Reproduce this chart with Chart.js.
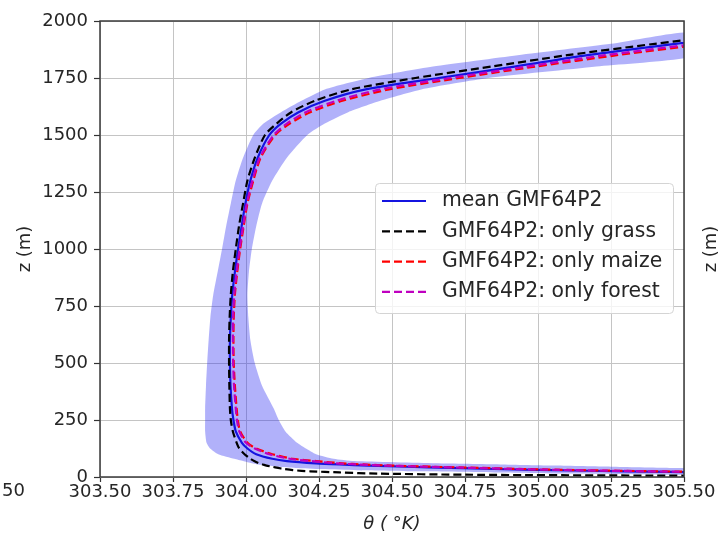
<!DOCTYPE html>
<html><head><meta charset="utf-8">
<script src="https://cdn.jsdelivr.net/npm/chart.js@4.4.1/dist/chart.umd.min.js"></script>
<style>html,body{margin:0;padding:0;background:#fff;overflow:hidden}canvas{display:block}</style>
</head><body>
<canvas id="c" width="719" height="535" style="width:719px;height:535px"></canvas>
<script>
// heights (m)
const zLevels = [5,10,15,20,25,30,35,40,45,50, 55,60,70,80,100,125,150,200,250,300, 400,500,600,700,800,900,1000,1100,1200,1300, 1400,1500,1550,1600,1650,1700,1750,1800,1850,1900, 1950];
// potential temperature (K) per series, aligned with zLevels (null = off the plot)
const thetaMean = [null,null,null,305.6,305.3,305.05,304.85,304.7,304.55,304.42, 304.32,304.24,304.14,304.09,304.035,304.005,303.986,303.965,303.957,303.952, 303.947,303.945,303.945,303.948,303.953,303.962,303.973,303.985,303.998,304.015, 304.04,304.08,304.12,304.18,304.27,304.41,304.66,304.92,305.17,305.47, 305.8];
const thetaGrass = [305.6,304.75,304.45,304.32,304.22,304.16,304.13,304.11,304.09,304.07, 304.058,304.045,304.028,304.015,303.995,303.977,303.968,303.955,303.948,303.945, 303.943,303.942,303.942,303.944,303.948,303.955,303.965,303.976,303.99,304.005, 304.03,304.065,304.105,304.155,304.235,304.36,304.58,304.84,305.1,305.4, 305.72];
const thetaMaize = [null,null,null,305.7,305.4,305.15,304.95,304.8,304.64,304.5, 304.4,304.33,304.24,304.16,304.09,304.035,304.005,303.98,303.972,303.968, 303.962,303.958,303.957,303.958,303.962,303.97,303.98,303.992,304.005,304.025, 304.05,304.1,304.15,304.22,304.33,304.49,304.73,304.99,305.27,305.58, null];
const thetaForest = [null,null,null,305.65,305.37,305.12,304.92,304.77,304.62,304.48, 304.38,304.31,304.22,304.15,304.08,304.03,304.0,303.977,303.969,303.965, 303.959,303.956,303.955,303.956,303.96,303.968,303.978,303.99,304.003,304.022, 304.047,304.095,304.14,304.205,304.31,304.46,304.7,304.96,305.23,305.54, null];
// spread of the ensemble (lower / upper theta bound)
const bandMin = [306.2,305.42,305.1,304.85,304.6,304.38,304.26,304.17,304.11,304.07, 304.04,304.02,303.99,303.96,303.905,303.877,303.865,303.86,303.86,303.86, 303.863,303.867,303.872,303.878,303.888,303.903,303.918,303.932,303.948,303.965, 303.99,304.025,304.06,304.12,304.19,304.27,304.42,304.64,304.93,305.25, 305.53];
const bandMax = [null,null,null,null,null,null,305.75,305.45,305.25,305.06, 304.87,304.65,304.37,304.3,304.24,304.205,304.175,304.135,304.112,304.095, 304.055,304.03,304.015,304.008,304.005,304.01,304.02,304.035,304.055,304.09, 304.14,304.21,304.27,304.35,304.46,304.6,304.83,305.2,305.55,null, null];
// tick labels
const xTicks = [303.5,303.75,304.0,304.25,304.5,304.75,305.0,305.25,305.5];
const yTicks = [0,250,500,750,1000,1250,1500,1750,2000];
const seriesLabels = ['mean GMF64P2','GMF64P2: only grass','GMF64P2: only maize','GMF64P2: only forest'];

const toPts = arr => zLevels.map((z,i)=> arr[i]==null ? null : {x:arr[i], y:z}).filter(Boolean);
const bandPts = toPts(bandMin).concat(toPts(bandMax).reverse());

const FONT = 'DejaVu Sans';
const TXT = '#262626';
const dash = [8,4];

// font sizes fitted to the widths of the texts in the reference
const mctx = document.createElement('canvas').getContext('2d');
function fitSize(text, target) { mctx.font = '100px "' + FONT + '"'; return 100 * target / mctx.measureText(text).width; }
const tickSize = (fitSize('303.50', 62) + fitSize('2000', 46.5)) / 2;
const legSize = (fitSize(seriesLabels[0], 159) + fitSize(seriesLabels[3], 220)) / 2;

const lineDs = (label, arr, color, d) => ({label, data: toPts(arr), borderColor: color, backgroundColor: color,
  borderWidth: 2.2, borderDash: d, pointRadius: 0, tension: 0.25, fill: false, clip: 0});

const dsMean = lineDs(seriesLabels[0], thetaMean, '#1414e0', []);
const dsGrass = lineDs(seriesLabels[1], thetaGrass, '#000000', dash);
const dsMaize = lineDs(seriesLabels[2], thetaMaize, '#ff0000', dash);
const dsForest = lineDs(seriesLabels[3], thetaForest, '#bf00bf', dash);
const dsBand = {label: 'spread', data: bandPts, fill: 'shape', backgroundColor: 'rgba(40,40,240,0.36)',
  borderColor: 'rgba(0,0,0,0)', borderWidth: 0, pointRadius: 0, tension: 0.2, clip: 0};

const overlay = {
  id: 'overlay',
  afterDatasetsDraw(chart) {
    const {ctx, chartArea: a} = chart;
    ctx.save();
    ctx.strokeStyle = '#3a3a3a'; ctx.lineWidth = 1.5;
    ctx.strokeRect(a.left, a.top, a.right - a.left, a.bottom - a.top);
    ctx.restore();
  },
  afterDraw(chart) {
    const {ctx} = chart;
    ctx.save();
    // legend
    const bx = 375.5, by = 183.5, bw = 298, bh = 130;
    ctx.beginPath();
    ctx.roundRect(bx, by, bw, bh, 4);
    ctx.fillStyle = 'rgba(255,255,255,0.8)'; ctx.fill();
    ctx.strokeStyle = '#d4d4d4'; ctx.lineWidth = 1; ctx.stroke();
    const items = [dsMean, dsGrass, dsMaize, dsForest];
    items.forEach((d, i) => {
      const y = 201 + i * 30.3;
      ctx.beginPath();
      ctx.setLineDash(d.borderDash);
      ctx.strokeStyle = d.borderColor; ctx.lineWidth = 2.2;
      ctx.moveTo(382, y); ctx.lineTo(426, y); ctx.stroke();
      ctx.setLineDash([]);
      ctx.fillStyle = TXT; ctx.font = legSize.toFixed(2) + 'px "' + FONT + '"';
      ctx.textBaseline = 'middle'; ctx.textAlign = 'left';
      ctx.fillText(d.label, 442, y);
    });
    // fragments of neighbouring panels
    ctx.fillStyle = TXT; ctx.font = tickSize.toFixed(2) + 'px "' + FONT + '"';
    ctx.textAlign = 'right'; ctx.textBaseline = 'middle';
    ctx.fillText('305.50', 25, 491);
    ctx.translate(711, 249); ctx.rotate(-Math.PI / 2);
    ctx.textAlign = 'center';
    ctx.fillText('z (m)', 0, 0);
    ctx.restore();
  }
};

const lh = tickSize * 1.2;
new Chart(document.getElementById('c'), {
  type: 'line',
  data: {datasets: [dsForest, dsMaize, dsGrass, dsMean, dsBand]},
  options: {
    responsive: false, animation: false, events: [],
    layout: {padding: {left: 0, right: 35, top: 21, bottom: 0}},
    plugins: {legend: {display: false}, tooltip: {enabled: false}, title: {display: false}},
    scales: {
      x: {
        type: 'linear', min: 303.5, max: 305.5,
        afterBuildTicks: s => { s.ticks = xTicks.map(v => ({value: v})); },
        afterFit: s => { s.height = 58; },
        ticks: {autoSkip: false, maxRotation: 0, padding: 0, color: TXT, font: {family: FONT, size: tickSize},
          callback: v => Number(v).toFixed(2)},
        grid: {color: '#c4c4c4', lineWidth: 1, drawTicks: true, tickLength: 5, tickColor: '#333', tickWidth: 1.2},
        border: {display: false},
        title: {display: true, text: 'θ ( °K)', color: TXT, font: {family: FONT, size: tickSize, style: 'italic'},
          padding: {top: 0, bottom: Math.max(0, 10.5 - lh / 2)}}
      },
      y: {
        type: 'linear', min: 0, max: 2000,
        afterBuildTicks: s => { s.ticks = yTicks.map(v => ({value: v})); },
        afterFit: s => { s.width = 100; },
        ticks: {autoSkip: false, padding: 6, color: TXT, font: {family: FONT, size: tickSize},
          callback: v => String(v)},
        grid: {color: '#c4c4c4', lineWidth: 1, drawTicks: true, tickLength: 6, tickColor: '#333', tickWidth: 1.2},
        border: {display: false},
        title: {display: true, text: 'z (m)', color: TXT, font: {family: FONT, size: tickSize},
          padding: {top: 25 - lh / 2, bottom: 0}}
      }
    }
  },
  plugins: [overlay]
});
</script>
</body></html>
